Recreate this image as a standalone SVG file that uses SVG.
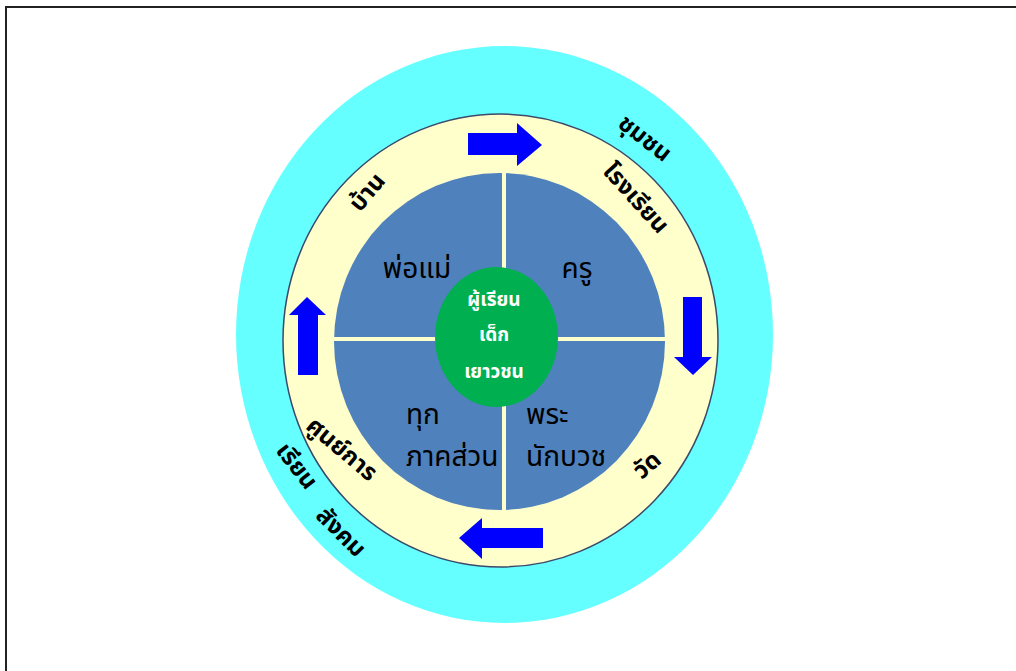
<svg xmlns="http://www.w3.org/2000/svg" width="1016" height="671" viewBox="0 0 1016 671">
<style>
.t{font-family:"Noto Sans","Noto Sans Thai","DejaVu Sans",sans-serif;fill:#000;}
.q{font-size:28px;}
.r{font-size:24px;font-weight:bold;}
.g{font-size:19px;font-weight:bold;fill:#fff;text-anchor:middle;}
.div{stroke:#FFFFCC;stroke-width:4;}
.arr{fill:#0000FF;}
</style>
<rect x="0" y="0" width="1016" height="671" fill="#fff"/>
<rect x="6" y="7" width="1030" height="690" fill="none" stroke="#222" stroke-width="2"/>
<g id="outer">
<ellipse cx="504.5" cy="334.5" rx="268.5" ry="288.5" fill="#66FFFF"/>
</g>
<g id="ring">
<ellipse cx="500.5" cy="340.5" rx="217.5" ry="226.5" fill="#FFFFCC" stroke="#3B4A6B" stroke-width="1.5"/>
</g>
<g id="quadrants">
<ellipse cx="499.5" cy="341.5" rx="165.5" ry="168.5" fill="#4F81BD"/>
</g>
<g id="connectors">
<line class="div" x1="504" y1="173" x2="504" y2="270"/>
<line class="div" x1="504" y1="404" x2="504" y2="510"/>
<line class="div" x1="334" y1="339" x2="437" y2="339"/>
<line class="div" x1="556" y1="339" x2="665" y2="339"/>
<polygon class="arr" points="468,133 517,133 517,123 542,145 517,166 517,155 468,155"/>
<polygon class="arr" points="683,297 702,297 702,357 712,357 693,375 674,357 683,357"/>
<polygon class="arr" points="543,528 482,528 482,518 459,538 482,559 482,548 543,548"/>
<polygon class="arr" points="298,375 318,375 318,315 326,315 307,297 289,315 298,315"/>
</g>
<g id="center">
<ellipse cx="496.5" cy="337" rx="61.5" ry="70" fill="#00B050"/>
<text class="t g" x="494" y="306">ผู้เรียน</text>
<text class="t g" x="494" y="341">เด็ก</text>
<text class="t g" x="494" y="378">เยาวชน</text>
</g>
<g id="q-parents"><text class="t q" x="417" y="278" text-anchor="middle">พ่อแม่</text></g>
<g id="q-teacher"><text class="t q" x="577" y="278" text-anchor="middle">ครู</text></g>
<g id="q-all"><text class="t q" x="406" y="424">ทุก</text><text class="t q" x="406" y="466">ภาคส่วน</text></g>
<g id="q-monk"><text class="t q" x="526" y="424">พระ</text><text class="t q" x="526" y="466">นักบวช</text></g>
<g id="ring-labels">
<text class="t r" text-anchor="middle" transform="translate(367,192) rotate(-50)" y="8">บ้าน</text>
<text class="t r" text-anchor="middle" transform="translate(645,138) rotate(38)" y="8">ชุมชน</text>
<text class="t r" text-anchor="middle" transform="translate(636,198) rotate(48)" y="8">โรงเรียน</text>
<text class="t r" text-anchor="middle" transform="translate(647,465) rotate(-40)" y="8">วัด</text>
<text class="t r" text-anchor="middle" transform="translate(342,449) rotate(40)" y="8">ศูนย์การ</text>
<text class="t r" text-anchor="middle" transform="translate(297,466) rotate(52)" y="8">เรียน</text>
<text class="t r" text-anchor="middle" transform="translate(341,532) rotate(45)" y="8">สังคม</text>
</g>
</svg>
